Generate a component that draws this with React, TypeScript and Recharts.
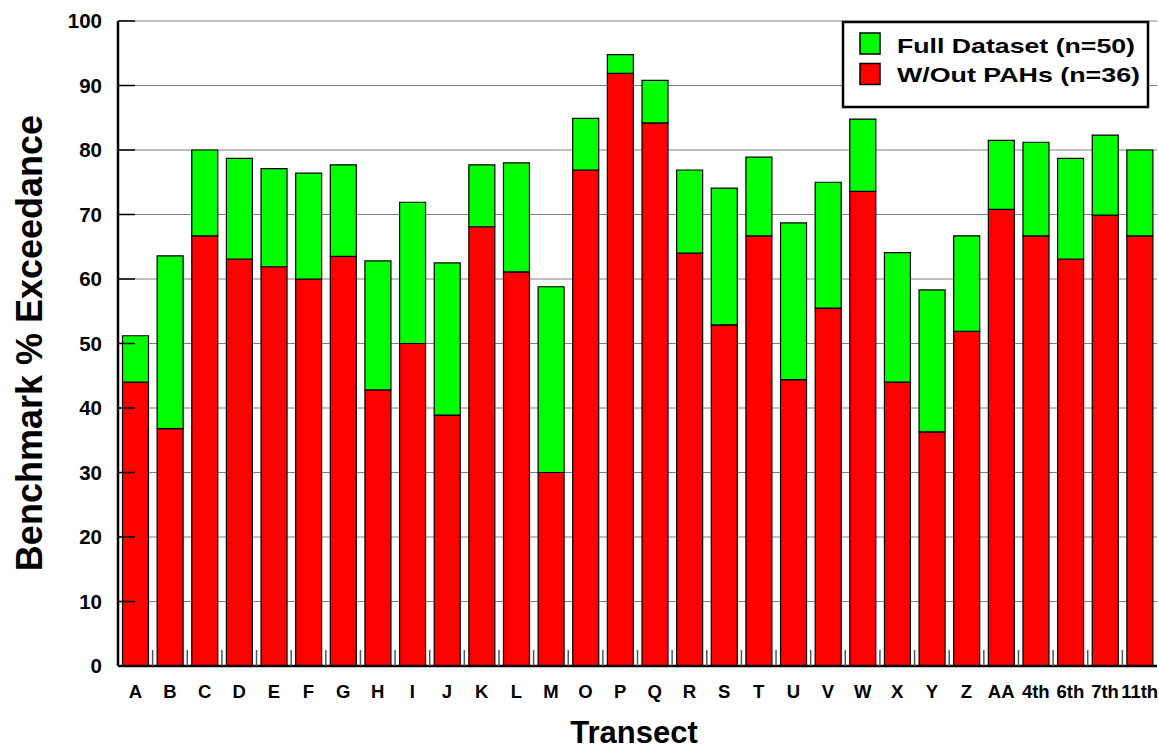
import { BarChart, Bar, XAxis, YAxis, CartesianGrid, Customized } from 'recharts';

const categories = ['A', 'B', 'C', 'D', 'E', 'F', 'G', 'H', 'I', 'J', 'K', 'L', 'M', 'O', 'P', 'Q', 'R', 'S', 'T', 'U', 'V', 'W', 'X', 'Y', 'Z', 'AA', '4th', '6th', '7th', '11th'];

// Full Dataset (n=50), total bar height
const fullDataset = [51.2, 63.6, 80.0, 78.7, 77.1, 76.4, 77.7, 62.8, 71.9, 62.5, 77.7, 78.0, 58.8, 84.9, 94.8, 90.8, 76.9, 74.1, 78.9, 68.7, 75.0, 84.8, 64.1, 58.3, 66.7, 81.5, 81.2, 78.7, 82.3, 80.0];

// W/Out PAHs (n=36), drawn in front
const withoutPAHs = [44.0, 36.8, 66.7, 63.1, 61.9, 60.0, 63.5, 42.8, 50.0, 38.9, 68.1, 61.1, 30.0, 76.9, 91.9, 84.2, 64.0, 52.9, 66.7, 44.4, 55.5, 73.6, 44.0, 36.3, 51.9, 70.8, 66.7, 63.1, 69.9, 66.7];

const yTicks = [0, 10, 20, 30, 40, 50, 60, 70, 80, 90, 100];

const seriesNames = ['Full Dataset (n=50)', 'W/Out PAHs (n=36)'];
const GREEN = '#00ff00';
const RED = '#ff0000';
const FONT = '"Liberation Sans", Arial, sans-serif';

// red part is the W/Out value, green part sits on top up to the full value
const data = categories.map((name, i) => ({
  name,
  full: fullDataset[i],
  noPah: withoutPAHs[i],
  extra: Math.max(0, fullDataset[i] - withoutPAHs[i]),
}));

function XTick(props: any) {
  const { x, y, payload, index } = props;
  const half = payload && payload.offset ? payload.offset : 17.3;
  return (
    <g>
      {index > 0 && (
        <line x1={x - half} x2={x - half} y1={y - 16} y2={y} stroke="#555" strokeWidth={1.5} />
      )}
      <text x={x} y={y + 32} textAnchor="middle" fontFamily={FONT} fontWeight="bold" fontSize={18.5} fill="#000">
        {payload.value}
      </text>
    </g>
  );
}

function Decor() {
  return (
    <g fontFamily={FONT} fontWeight="bold" fill="#000">
      <text x={42} y={343} transform="rotate(-90, 42, 343)" textAnchor="middle" fontSize={36}>
        Benchmark % Exceedance
      </text>
      <text x={634} y={743} textAnchor="middle" fontSize={31}>
        Transect
      </text>
      <rect x={843} y={22} width={305} height={85} fill="#fff" stroke="#000" strokeWidth={2.5} />
      <rect x={860} y={33} width={20} height={21} fill={GREEN} stroke="#000" strokeWidth={1.5} />
      <text x={897} y={52.5} fontSize={20.5} textLength={238} lengthAdjust="spacingAndGlyphs">
        {seriesNames[0]}
      </text>
      <rect x={860} y={63.5} width={20} height={21} fill={RED} stroke="#000" strokeWidth={1.5} />
      <text x={897} y={82} fontSize={20.5} textLength={243} lengthAdjust="spacingAndGlyphs">
        {seriesNames[1]}
      </text>
    </g>
  );
}

export default function App() {
  return (
    <div style={{ position: 'absolute', left: 0, top: 0, background: '#fff' }}>
      <BarChart
        width={1159}
        height={751}
        data={data}
        margin={{ top: 21, right: 2, left: 0, bottom: 0 }}
        barCategoryGap="13%"
      >
        <CartesianGrid vertical={false} stroke="#808080" strokeWidth={1} />
        <XAxis
          dataKey="name"
          height={85}
          interval={0}
          tickLine={false}
          tickSize={0}
          tickMargin={0}
          axisLine={{ stroke: '#000', strokeWidth: 2.5 }}
          tick={<XTick />}
        />
        <XAxis
          xAxisId="top"
          orientation="top"
          dataKey="name"
          height={0}
          tick={false}
          tickLine={false}
          axisLine={{ stroke: '#000', strokeWidth: 2.5 }}
        />
        <YAxis
          width={118}
          domain={[0, 100]}
          ticks={yTicks}
          interval={0}
          tickSize={-17}
          tickMargin={33}
          tickLine={{ stroke: '#000', strokeWidth: 1.5 }}
          axisLine={{ stroke: '#000', strokeWidth: 2.5 }}
          tick={{ fontFamily: FONT, fontWeight: 'bold', fontSize: 20.5, fill: '#000' }}
        />
        <YAxis
          yAxisId="right"
          orientation="right"
          width={0}
          domain={[0, 100]}
          tick={false}
          tickLine={false}
          axisLine={{ stroke: '#000', strokeWidth: 2.5 }}
        />
        <Bar dataKey="noPah" name={seriesNames[1]} stackId="a" fill={RED} stroke="#000" strokeWidth={1.2} isAnimationActive={false} />
        <Bar dataKey="extra" name={seriesNames[0]} stackId="a" fill={GREEN} stroke="#000" strokeWidth={1.2} isAnimationActive={false} />
        <Customized component={<Decor />} />
      </BarChart>
    </div>
  );
}
